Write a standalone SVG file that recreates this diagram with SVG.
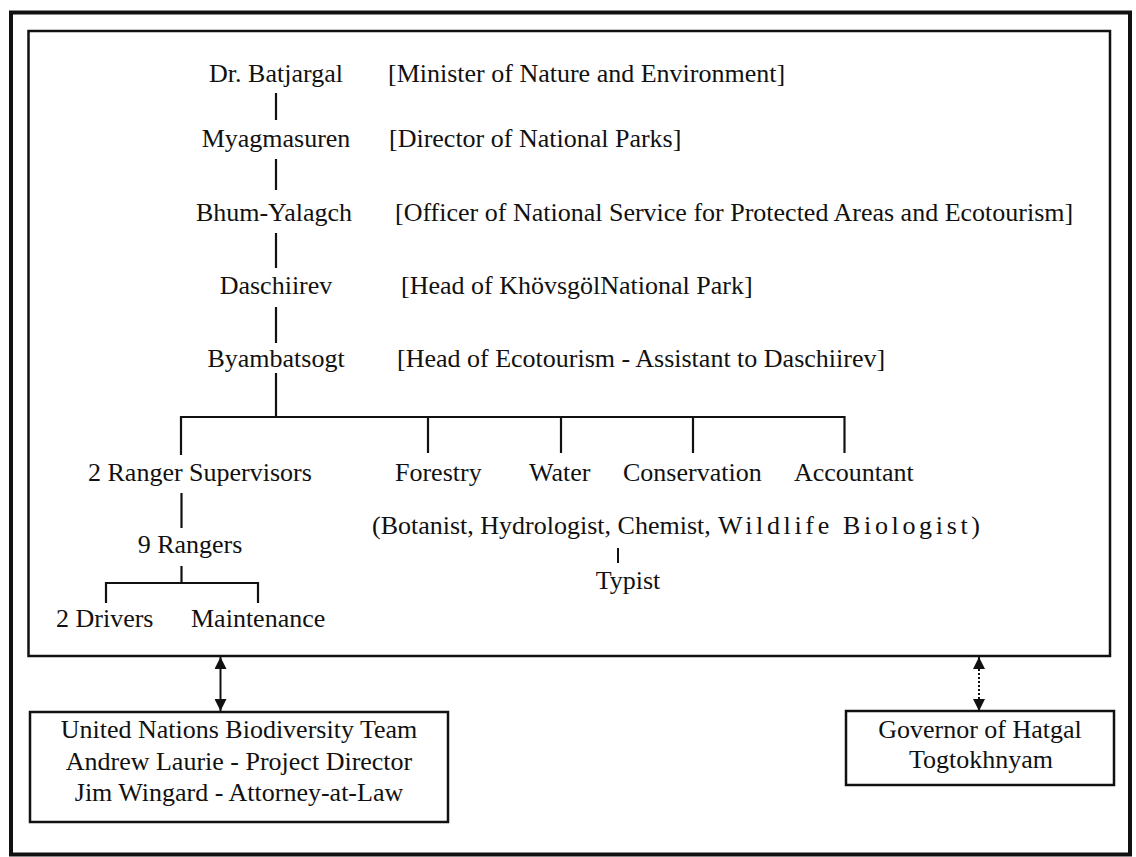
<svg xmlns="http://www.w3.org/2000/svg" width="1136" height="857" viewBox="0 0 1136 857">
  <defs>
    <style>
      text { font-family: "Liberation Serif", "Times New Roman", serif; font-size: 26px; fill: #111; }
      .mid { text-anchor: middle; }
      .frame { fill: none; stroke: #111; }
      .box { fill: #fff; stroke: #111; stroke-width: 2.5; }
      .link { fill: none; stroke: #111; stroke-width: 2.2; }
      .thin { fill: none; stroke: #111; stroke-width: 2; }
      .dot { fill: none; stroke: #111; stroke-width: 2; stroke-dasharray: 2 2; }
    </style>
    <marker id="ah" viewBox="0 0 10 10" refX="10" refY="5" markerWidth="6" markerHeight="6" orient="auto-start-reverse" markerUnits="strokeWidth">
      <path d="M0,0 L10,5 L0,10 z" fill="#111"/>
    </marker>
  </defs>

  <rect width="1136" height="857" fill="#fff"/>

  <!-- outer page frame and the inner park-administration frame -->
  <rect class="frame" x="11" y="12.5" width="1119" height="842" stroke-width="4"/>
  <rect class="frame" x="28.5" y="31" width="1081.5" height="625" stroke-width="2.5"/>

  <g id="connectors">
    <!-- chain of command -->
    <line class="link" x1="276" y1="93" x2="276" y2="120"/>
    <line class="link" x1="276" y1="159" x2="276" y2="190"/>
    <line class="link" x1="276" y1="233" x2="276" y2="268"/>
    <line class="link" x1="276" y1="307" x2="276" y2="343"/>
    <line class="link" x1="276" y1="373" x2="276" y2="417"/>
    <!-- departments bus -->
    <line class="link" x1="181" y1="417" x2="845" y2="417"/>
    <line class="link" x1="181" y1="416" x2="181" y2="455"/>
    <line class="link" x1="428" y1="416" x2="428" y2="453"/>
    <line class="link" x1="561" y1="416" x2="561" y2="453"/>
    <line class="link" x1="693" y1="416" x2="693" y2="453"/>
    <line class="link" x1="844.5" y1="416" x2="844.5" y2="453"/>
    <!-- rangers -->
    <line class="link" x1="181.5" y1="493" x2="181.5" y2="528"/>
    <line class="link" x1="181.5" y1="566" x2="181.5" y2="583"/>
    <line class="link" x1="106" y1="583" x2="258" y2="583"/>
    <line class="link" x1="106" y1="582" x2="106" y2="603"/>
    <line class="link" x1="258" y1="582" x2="258" y2="603"/>
    <!-- specialists to typist -->
    <line class="thin" x1="618" y1="548" x2="618" y2="563"/>
    <!-- external links -->
    <line class="thin" x1="220.5" y1="657" x2="220.5" y2="711" marker-start="url(#ah)" marker-end="url(#ah)"/>
    <line class="dot" x1="979" y1="657" x2="979" y2="711" marker-start="url(#ah)" marker-end="url(#ah)"/>
  </g>

  <g id="batjargal">
    <text class="mid" x="276" y="82">Dr. Batjargal</text>
    <text x="388" y="82">[Minister of Nature and Environment]</text>
  </g>
  <g id="myagmasuren">
    <text class="mid" x="276" y="147">Myagmasuren</text>
    <text x="389" y="147">[Director of National Parks]</text>
  </g>
  <g id="bhum-yalagch">
    <text class="mid" x="274" y="221">Bhum-Yalagch</text>
    <text x="395" y="221">[Officer of National Service for Protected Areas and Ecotourism]</text>
  </g>
  <g id="daschiirev">
    <text class="mid" x="276" y="294">Daschiirev</text>
    <text x="401" y="294">[Head of KhövsgölNational Park]</text>
  </g>
  <g id="byambatsogt">
    <text class="mid" x="276" y="367">Byambatsogt</text>
    <text x="397" y="367">[Head of Ecotourism - Assistant to Daschiirev]</text>
  </g>

  <g id="ranger-supervisors"><text x="88" y="481">2 Ranger Supervisors</text></g>
  <g id="forestry"><text x="395" y="481">Forestry</text></g>
  <g id="water"><text x="529" y="481">Water</text></g>
  <g id="conservation"><text x="623" y="481">Conservation</text></g>
  <g id="accountant"><text x="794" y="481">Accountant</text></g>

  <g id="specialists"><text x="372" y="534">(Botanist, Hydrologist, Chemist, <tspan x="718" textLength="262" lengthAdjust="spacing">Wildlife Biologist)</tspan></text></g>
  <g id="typist"><text class="mid" x="628" y="589">Typist</text></g>

  <g id="rangers"><text class="mid" x="190" y="553">9 Rangers</text></g>
  <g id="drivers"><text x="56" y="627">2 Drivers</text></g>
  <g id="maintenance"><text x="191" y="627">Maintenance</text></g>

  <g id="un-team">
    <rect class="box" x="30" y="712" width="418" height="110"/>
    <text class="mid" x="239" y="738">United Nations Biodiversity Team</text>
    <text class="mid" x="239" y="770">Andrew Laurie - Project Director</text>
    <text class="mid" x="239" y="801">Jim Wingard - Attorney-at-Law</text>
  </g>

  <g id="governor">
    <rect class="box" x="846" y="711" width="268" height="74"/>
    <text class="mid" x="980" y="738">Governor of Hatgal</text>
    <text class="mid" x="981" y="768">Togtokhnyam</text>
  </g>
</svg>
